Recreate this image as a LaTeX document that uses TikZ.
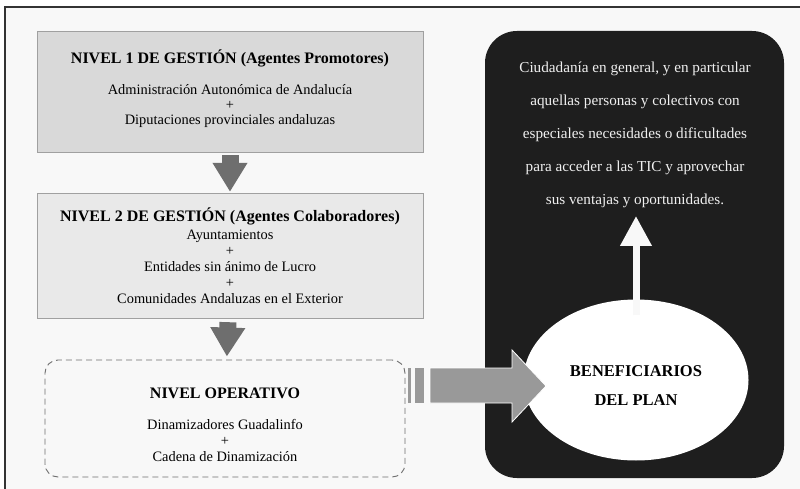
\documentclass[tikz,border=0pt]{standalone}
\usepackage{fontspec}
\setmainfont{Liberation Serif}
\usetikzlibrary{arrows.meta,shapes.geometric}
\definecolor{backgr}{HTML}{F8F8F8}
\definecolor{nivelone}{HTML}{D9D9D9}
\definecolor{niveltwo}{HTML}{E9E9E9}
\definecolor{boxline}{HTML}{A0A0A0}
\definecolor{darkarrow}{HTML}{6E6E6E}
\definecolor{fatarrow}{HTML}{999999}
\definecolor{blackbox}{HTML}{1E1E1E}
\tikzset{
  nivel/.style={draw=boxline, minimum width=386bp},
  niveltext/.style={align=center, font=\fontsize{14.4bp}{16bp}\selectfont},
  downarrow/.style={darkarrow, line width=17bp,
    -{Triangle[width=33bp,length=29bp]}},
}
\newcommand{\titulo}[1]{{\fontsize{16bp}{17bp}\selectfont\bfseries #1}}
\begin{document}
\begin{tikzpicture}[x=1bp,y=-1bp]
\useasboundingbox (0,0) rectangle (800,489);
% Background and frame
\fill[backgr] (5,7) rectangle (800,489);
\draw[line width=1.5bp, black!80] (5,489) -- (5,7) -- (800,7);
% Management levels
\node[nivel, fill=nivelone, minimum height=121bp] (nivel1) at (230,91.5) {};
\node[niveltext] (nivel1txt) at (230,89)
  {\titulo{NIVEL 1 DE GESTIÓN (Agentes Promotores)}\\[15bp]
   Administración Autonómica de Andalucía\\[-1bp] +\\[-1bp]
   Diputaciones provinciales andaluzas};
\node[nivel, fill=niveltwo, minimum height=125bp] (nivel2) at (230,255.5) {};
\node[niveltext] (nivel2txt) at (230,255.5)
  {\titulo{NIVEL 2 DE GESTIÓN (Agentes Colaboradores)}\\[2bp]
   Ayuntamientos\\ +\\ Entidades sin ánimo de Lucro\\ +\\
   Comunidades Andaluzas en el Exterior};
\node[nivel, draw=darkarrow, dash pattern=on 6bp off 4bp, line width=0.9bp,
  rounded corners=13bp, minimum width=360bp, minimum height=117bp]
  (operativo) at (225,418.5) {};
\node[niveltext] (operativotxt) at (225,424.5)
  {\titulo{NIVEL OPERATIVO}\\[15bp]
   Dinamizadores Guadalinfo\\ +\\ Cadena de Dinamización};
% Arrows between levels
\draw[downarrow, shorten <=3bp, shorten >=1bp] (nivel1) -- (nivel2);
\draw[downarrow, shorten <=4bp, shorten >=3bp] (nivel2) -- (operativo);
% Beneficiaries
\node[fill=blackbox, rounded corners=32bp, minimum width=299bp,
  minimum height=447bp] (publico) at (634.5,254.5) {};
\node[ellipse, fill=white, minimum width=225bp, minimum height=161bp]
  (benef) at (636,380) {};
\node[align=center, font=\fontsize{16.5bp}{29bp}\selectfont\bfseries]
  (beneftxt) at (636,386) {BENEFICIARIOS\\DEL PLAN};
\node[text=white!94!black, align=center,
  font=\fontsize{15.2bp}{33bp}\selectfont] (ciudadania) at (635,135)
  {Ciudadanía en general, y en particular\\
   aquellas personas y colectivos con\\
   especiales necesidades o dificultades\\
   para acceder a las TIC y aprovechar\\
   sus ventajas y oportunidades.};
\coordinate (tip) at (636,216);
\draw[backgr, line width=7bp, -{Triangle[width=30bp,length=30bp]}]
  ([yshift=-16bp]benef.north) -- (tip);
% Arrow from operational level to beneficiaries
\fill[fatarrow] (408,368) rectangle (411,403);
\fill[fatarrow] (415,368) rectangle (424,403);
\filldraw[fill=fatarrow, draw=white, line width=0.8bp]
  (430,368) -- (512,368) -- (512,350) -- (546,386)
  -- (512,422) -- (512,403) -- (430,403) -- cycle;
\end{tikzpicture}
\end{document}
